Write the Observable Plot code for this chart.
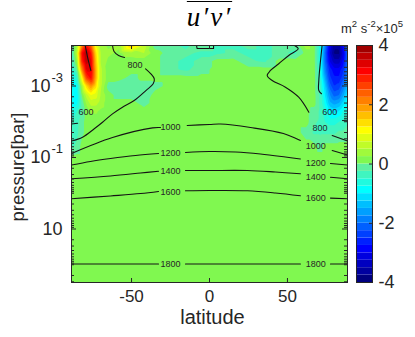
<!DOCTYPE html>
<html>
<head>
<meta charset="utf-8">
<script src="https://cdn.jsdelivr.net/npm/d3@7"></script>
<script src="https://cdn.jsdelivr.net/npm/@observablehq/plot@0.6"></script>
<style>
  html,body{margin:0;padding:0;background:#fff;}
  #wrap{position:relative;width:415px;height:337px;overflow:hidden;background:#fff;
        font-family:"Liberation Sans",Arial,sans-serif;color:#262626;}
  #wrap > svg, #wrap > div {position:absolute;}
  #title{left:0;top:2px;width:419px;text-align:center;font-family:"Liberation Serif",serif;
         font-style:italic;font-size:27px;line-height:30px;color:#000;}
  #title span{text-decoration:overline;text-decoration-thickness:1.3px;letter-spacing:2px;}
  .cbl{line-height:15px;color:#262626;white-space:nowrap;font-size:13px;}
  .cbl sup{font-size:9.5px;line-height:0;vertical-align:6px;}
</style>
</head>
<body>
<div id="wrap">
  <div id="title"><span>u′v′</span></div>
  <div class="cbl" style="left:341px;top:21px;">m<sup>2</sup> s<sup>-2</sup>×10<sup>5</sup></div>
</div>
<script>
// ---------- u'v' field (×10^5 m^2 s^-2) ----------
const lats = [-88.5,-85,-82,-79,-76,-73,-70,-65,-58,-50,-42,-35,-25,-15,-5,5,15,25,35,45,55,62,67,71,74,77,80,83,86,88.5];
const pressures = [7.36e-5,1.2e-4,2e-4,3.5e-4,6e-4,1e-3,1.8e-3,3e-3,5e-3,1e-2,2e-2,5e-2,0.1,1,314];
const uvRows = [
  [-0.3,0.4,2.0,3.0,2.4,1.0,0.4,0.2,0.3,1.6,0.7,-0.1,-0.2,-0.3,-0.1,-0.3,-0.3,-0.2,-0.3,-0.2,-0.2,0.4,0.1,-0.6,-1.8,-3.0,-3.7,-3.7,-2.8,-1.8],
  [-0.4,0.6,3.0,3.8,3.0,1.4,0.5,0.3,0.2,0.4,0.5,0.1,-0.1,-0.2,-0.3,-0.3,-0.2,-0.3,-0.3,-0.2,-0.3,0.1,0.1,-0.7,-2.0,-3.2,-3.8,-3.8,-3.0,-2.0],
  [-0.5,0.3,2.8,3.7,3.3,1.6,0.5,0.2,0.1,0.1,0.1,0.1,-0.2,-0.3,-0.2,0.1,0.1,-0.2,-0.3,0.1,0.1,0.1,0.1,-0.7,-2.0,-3.0,-3.4,-3.4,-2.8,-2.0],
  [-0.7,-0.1,2.0,3.3,3.3,1.8,0.6,0.1,0.1,0.1,0.1,0.1,-0.2,-0.3,-0.1,0.1,0.1,0.1,0.1,0.1,0.1,0.1,0.1,-0.6,-1.8,-2.6,-2.9,-2.9,-2.5,-1.8],
  [-0.8,-0.5,1.0,2.6,3.1,1.8,0.6,0.1,0.1,-0.1,0.1,0.1,0.1,0.1,0.1,0.1,0.1,0.1,0.1,0.1,0.1,0.1,0.1,-0.5,-1.5,-2.4,-2.7,-2.7,-2.3,-1.7],
  [-0.95,-0.8,0.3,1.4,2.0,1.4,0.6,-0.1,-0.2,-0.2,-0.2,-0.1,0.1,0.1,0.1,0.1,0.1,0.1,0.1,0.1,0.1,0.1,0.1,-0.4,-1.2,-2.1,-2.5,-2.4,-1.9,-1.4],
  [-0.95,-0.9,0,0.6,1.0,0.9,0.5,0.1,-0.1,-0.1,-0.2,0.1,0.1,0.1,0.1,0.1,0.1,0.1,0.1,0.1,0.1,0.1,0.1,-0.3,-1.0,-1.7,-2.1,-2.0,-1.5,-1.0],
  [-0.85,-0.8,-0.2,0.3,0.6,0.6,0.4,0.1,0.1,0.1,-0.1,0.1,0.1,0.1,0.1,0.1,0.1,0.1,0.1,0.1,0.1,0.1,0.1,-0.3,-0.8,-1.4,-1.6,-1.5,-1.1,-0.8],
  [-0.7,-0.5,-0.2,0.1,0.3,0.3,0.2,0.1,0.1,0.1,0.1,0.1,0.1,0.1,0.1,0.1,0.1,0.1,0.1,0.1,0.1,0.1,-0.1,-0.3,-0.6,-1.0,-1.1,-1.0,-0.7,-0.5],
  [-0.5,-0.35,-0.1,0.1,0.1,0.1,0.1,0.1,0.1,0.1,0.1,0.1,0.1,0.1,0.1,0.1,0.1,0.1,0.1,0.1,0.1,0.1,-0.2,-0.3,-0.5,-0.6,-0.6,-0.5,-0.4,-0.3],
  [-0.4,-0.3,-0.1,0.1,0.1,0.1,0.1,0.1,0.1,0.1,0.1,0.1,0.1,0.1,0.1,0.1,0.1,0.1,0.1,0.1,0.1,-0.1,-0.3,-0.3,-0.3,-0.3,-0.3,-0.2,-0.2,-0.1],
  [-0.3,-0.2,0.1,0.1,0.1,0.1,0.1,0.1,0.1,0.1,0.1,0.1,0.1,0.1,0.1,0.1,0.1,0.1,0.1,0.1,0.1,0.1,0.1,-0.1,0.1,0.1,0.1,0.1,0.1,0.1],
  [0.1,0.1,0.1,0.1,0.1,0.1,0.1,0.1,0.1,0.1,0.1,0.1,0.1,0.1,0.1,0.1,0.1,0.1,0.1,0.1,0.1,0.1,0.1,0.1,0.1,0.1,0.1,0.1,0.1,0.1],
  [0.1,0.1,0.1,0.1,0.1,0.1,0.1,0.1,0.1,0.1,0.1,0.1,0.1,0.1,0.1,0.1,0.1,0.1,0.1,0.1,0.1,0.1,0.1,0.1,0.1,0.1,0.1,0.1,0.1,0.1],
  [0.1,0.1,0.1,0.1,0.1,0.1,0.1,0.1,0.1,0.1,0.1,0.1,0.1,0.1,0.1,0.1,0.1,0.1,0.1,0.1,0.1,0.1,0.1,0.1,0.1,0.1,0.1,0.1,0.1,0.1]
];

// ---------- overlaid contour lines [latitude, pressure(bar)] ----------
const c600L1 = [[-79.7,7.36e-5],[-78.2,1.56e-4],[-76.1,3.68e-4]];
const c600L2 = [[-84.6,1.10e-2],[-88.5,1.16e-2]];
const c600R1 = [[72.2,7.36e-5],[71.2,1.94e-4],[70.1,7.02e-4],[70.1,1.34e-3],[71.8,1.65e-3]];
const c600R2 = [[85.3,9.23e-3],[88.5,9.53e-3]];
const c800L1 = [[-62.2,7.36e-5],[-61.2,1.08e-4],[-58.3,1.40e-4],[-54.5,1.60e-4]];
const c800L2 = [[-41.0,3.30e-4],[-37.6,4.56e-4],[-35.4,6.29e-4],[-36.1,8.68e-4],[-40.8,1.34e-3],[-48.3,2.55e-3],[-55.8,3.92e-3],[-62.2,6.00e-3],[-68.6,1.03e-2],[-73.9,1.57e-2],[-81.4,2.70e-2],[-88.5,3.45e-2]];
const c800R1 = [[54.5,7.36e-5],[56.9,9.11e-5],[50.8,1.40e-4],[44.4,2.39e-4],[39.1,3.68e-4],[37.0,5.08e-4],[40.2,7.02e-4],[48.7,1.08e-3],[57.2,2.06e-3],[63.7,5.40e-3]];
const c800R2 = [[78.7,2.43e-2],[88.5,3.45e-2]];
const c800T  = [[-8.3,7.36e-5],[-8.0,8.9e-5],[2.6,8.9e-5],[2.6,7.36e-5]];
const c1000L = [[-88.5,7.73e-2],[-62.2,2.76e-2],[-36.5,1.48e-2],[-31.4,1.45e-2]];
const c1000M = [[-14.3,1.27e-2],[0,1.19e-2],[7.05,1.16e-2],[26.3,1.45e-2],[47.4,2.13e-2],[58.3,3.34e-2]];
const c1000R = [[78.7,6.37e-2],[88.5,8.51e-2]];
const c1200L = [[-88.5,0.162],[-76.3,0.129],[-63.5,0.107],[-47.4,8.79e-2],[-32.7,7.73e-2]];
const c1200M = [[-15.4,7.24e-2],[0,6.79e-2],[16.7,7.01e-2],[32.7,7.98e-2],[48.7,9.68e-2],[58.3,0.110]];
const c1200R = [[77.6,0.147],[88.5,0.162]];
const c1400L = [[-88.5,0.394],[-63.5,0.329],[-44.2,0.272],[-32.7,0.242]];
const c1400M = [[-15.4,0.231],[0,0.231],[24.4,0.231],[42.3,0.255],[58.3,0.286]];
const c1400R = [[77.6,0.356],[88.5,0.394]];
const c1600L = [[-88.5,1.43],[-63.5,1.19],[-44.2,1.02],[-32.7,0.893]];
const c1600M = [[-15.4,0.853],[0,0.838],[24.4,0.853],[42.3,0.984],[58.3,1.18]];
const c1600R = [[77.6,1.37],[88.5,1.43]];
const c1800L = [[-88.5,95.3],[-32.7,95.3]];
const c1800M = [[-15.4,95.3],[58.3,95.3]];
const c1800R = [[77.6,95.3],[88.5,95.3]];

// contour labels
const labelText = ["600","800","1000","1200","1400","1600","1800","600","800","1000","1200","1400","1600","1800"];
const labelLat  = [-79.2,-47.8,-25,-25,-25,-25,-25,77.2,70.8,68.1,68.1,68.1,68.1,68.1];
const labelP    = [5.33e-3,2.67e-4,1.45e-2,7.6e-2,0.242,0.953,95.3,5.33e-3,1.55e-2,4.83e-2,0.141,0.356,1.37,95.3];

// axes / colour bar
const xTicks = [-50,0,50];
const yTickValues = [1e-3,1e-1,10];
const yTickExps = ["-3","-1",""];
const cbTicks = [-4,-2,0,2,4];
const cmapStops = [-4,-3,-1,-0.25,0,1,3,4];
const cmapColors = ["#000080","#0000ff","#00ffff","#60f0a0","#80f850","#ffff00","#ff0000","#800000"];

// ---------- build ----------
const grid = [];
pressures.forEach((p,i)=>lats.forEach((lat,j)=>grid.push({lat,p,v:uvRows[i][j]})));
const pieces = [c600L1,c600L2,c600R1,c600R2,c800L1,c800L2,c800R1,c800R2,c800T,c1000L,c1000M,c1000R,
  c1200L,c1200M,c1200R,c1400L,c1400M,c1400R,c1600L,c1600M,c1600R,c1800L,c1800M,c1800R];
const lineData = pieces.flatMap((pts,k)=>pts.map(([lat,p])=>({id:k,lat,p,straight:pts===c800T})));
const labels = labelText.map((t,i)=>({t,lat:labelLat[i],p:labelP[i]}));
const thresholds = d3.range(-4,4,0.25);
const colorOpts = {type:"linear",domain:cmapStops,range:cmapColors,interpolate:"rgb",clamp:true};

const yMinor = [];
for (let k=-5;k<=2;k++) for (let m=1;m<=9;m++){
  const v = +(m*Math.pow(10,k)).toPrecision(3);
  if (v>7.36e-5 && v<314 && !yTickValues.includes(v)) yMinor.push(v);
}

const W=415,H=337,mL=71,mR=68,mT=45,mB=55, fw=W-mL-mR, fh=H-mT-mB;
const font = '"Liberation Sans",Arial,sans-serif';
const ink = "#262626";

const main = Plot.plot({
  width:W,height:H,marginLeft:mL,marginRight:mR,marginTop:mT,marginBottom:mB,
  style:{fontFamily:font,color:ink,background:"transparent",overflow:"visible"},
  x:{domain:[-88.5,88.5],label:null},
  y:{type:"log",domain:[7.36e-5,314],reverse:true,axis:null},
  color:colorOpts,
  marks:[
    Plot.contour(grid,{x:"lat",y:"p",fill:"v",interpolate:"barycentric",thresholds,pixelSize:1,stroke:"none"}),
    Plot.line(lineData.filter(d=>!d.straight),{x:"lat",y:"p",z:"id",stroke:"#141414",strokeWidth:1.1,curve:"catmull-rom"}),
    Plot.line(lineData.filter(d=>d.straight),{x:"lat",y:"p",z:"id",stroke:"#141414",strokeWidth:1.1}),
    Plot.text(labels,{x:"lat",y:"p",text:"t",fontSize:9,fill:ink}),
    Plot.frame({stroke:ink}),
    Plot.tickX(xTicks,{x:d=>d,insetTop:fh-4,stroke:ink}),
    Plot.tickX(xTicks,{x:d=>d,insetBottom:fh-4,stroke:ink}),
    Plot.tickY(yTickValues,{y:d=>d,insetRight:fw-5,stroke:ink}),
    Plot.tickY(yTickValues,{y:d=>d,insetLeft:fw-5,stroke:ink}),
    Plot.tickY(yMinor,{y:d=>d,insetRight:fw-3,stroke:ink}),
    Plot.tickY(yMinor,{y:d=>d,insetLeft:fw-3,stroke:ink}),
    Plot.axisX({ticks:xTicks,tickSize:0,tickPadding:7,fontSize:17,tickFormat:d=>String(d),label:null}),
    Plot.text(yTickValues.filter((d,i)=>yTickExps[i]),{y:d=>d,frameAnchor:"left",text:()=>"10",textAnchor:"end",lineAnchor:"middle",dx:-21,fontSize:18,fill:ink}),
    Plot.text(yTickValues.filter((d,i)=>yTickExps[i]),{y:d=>d,frameAnchor:"left",text:d=>yTickExps[yTickValues.indexOf(d)],textAnchor:"start",lineAnchor:"middle",dx:-20,dy:-8.5,fontSize:13,fill:ink}),
    Plot.text(yTickValues.filter((d,i)=>!yTickExps[i]),{y:d=>d,frameAnchor:"left",text:()=>"10",textAnchor:"end",lineAnchor:"middle",dx:-9,fontSize:18,fill:ink}),
    Plot.text(["latitude"],{frameAnchor:"bottom",text:d=>d,textAnchor:"middle",lineAnchor:"middle",dy:34.6,dx:3,fontSize:20,fill:ink}),
    Plot.text(["pressure[bar]"],{frameAnchor:"left",text:d=>d,textAnchor:"middle",lineAnchor:"middle",rotate:-90,dx:-53.5,dy:3,fontSize:18.5,fill:ink})
  ]
});
main.style.left="0px"; main.style.top="0px";

const cbBands = d3.range(-4,4,0.25);
const cb = Plot.plot({
  width:59,height:H,marginLeft:0,marginRight:43,marginTop:mT,marginBottom:mB,
  style:{fontFamily:font,color:ink,background:"transparent",overflow:"visible"},
  y:{domain:[-4,4],axis:null},
  color:colorOpts,
  marks:[
    Plot.rect(cbBands,{y1:d=>d,y2:d=>d+0.25,fill:d=>d}),
    Plot.frame({stroke:ink}),
    Plot.tickY(cbTicks.slice(1,-1),{y:d=>d,insetLeft:13,stroke:ink}),
    Plot.axisY({anchor:"right",ticks:cbTicks,tickSize:0,tickPadding:6,fontSize:18,tickFormat:d=>String(d),label:null})
  ]
});
cb.style.left="356px"; cb.style.top="0px";

const wrap = document.getElementById("wrap");
wrap.insertBefore(cb, wrap.firstChild);
wrap.insertBefore(main, wrap.firstChild);
</script>
</body>
</html>
